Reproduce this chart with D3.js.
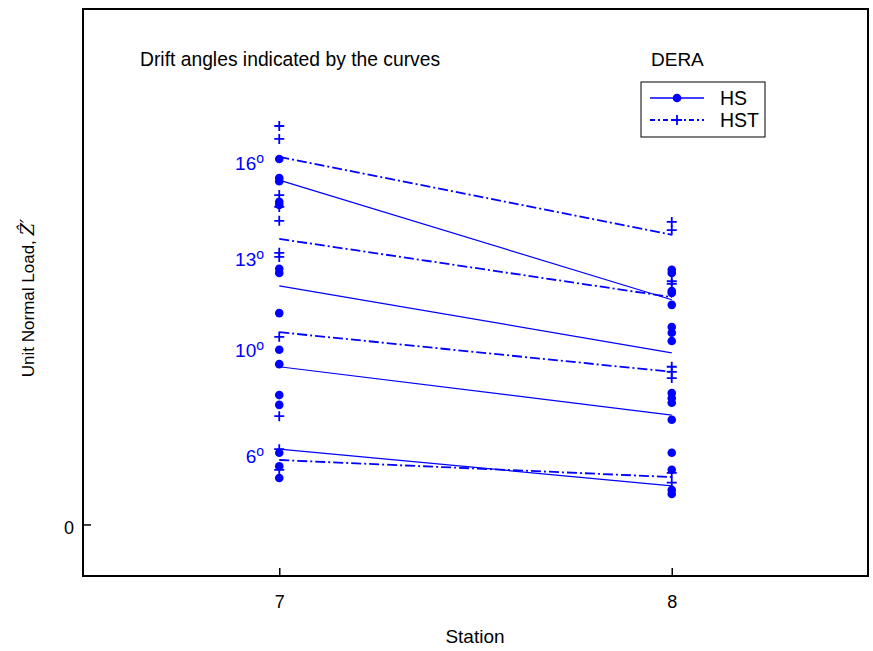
<!DOCTYPE html>
<html>
<head>
<meta charset="utf-8">
<script src="https://cdn.jsdelivr.net/npm/d3@7"></script>
<style>
  body { margin: 0; background: #fff; }
  text { font-family: "Liberation Sans", Arial, sans-serif; }
</style>
</head>
<body>
<svg id="chart"></svg>
<script>
// measured loads at stations 7 and 8
const stations = [7, 8]
const hsSt7 = [0.709, 0.672, 0.666, 0.626, 0.620, 0.496, 0.488, 0.410, 0.339, 0.311, 0.251, 0.232, 0.139, 0.113, 0.090]
const hsSt8 = [0.494, 0.488, 0.453, 0.449, 0.426, 0.383, 0.372, 0.356, 0.255, 0.245, 0.236, 0.203, 0.139, 0.106, 0.067, 0.059]
const hstSt7 = [0.773, 0.748, 0.639, 0.616, 0.589, 0.527, 0.519, 0.364, 0.210, 0.146, 0.106]
const hstSt8 = [0.587, 0.571, 0.472, 0.467, 0.306, 0.296, 0.284, 0.100, 0.081]

// fitted curves per drift angle: [station 7, station 8]
const angles = [16, 13, 10, 6]
const hsFit = [[0.668, 0.436], [0.463, 0.333], [0.306, 0.212], [0.146, 0.075]]
const hstFit = [[0.713, 0.562], [0.554, 0.441], [0.373, 0.296], [0.125, 0.092]]
const angleLabelLevel = [0.701, 0.515, 0.339, 0.133]

const yTicks = [0]
const blue = '#0000ff'

const width = 873
const height = 651
const margin = { left: 83, right: 5, top: 9, bottom: 75 }

const svg = d3.select('svg#chart').attr('width', width).attr('height', height)

const x = d3.scaleLinear().domain([6.5, 8.5]).range([margin.left, width - margin.right])
const y = d3.scaleLinear().domain([-0.1, 1.0]).range([height - margin.bottom, margin.top])

// frame
svg.append('rect')
    .attr('x', margin.left).attr('y', margin.top)
    .attr('width', width - margin.left - margin.right)
    .attr('height', height - margin.top - margin.bottom)
    .attr('fill', 'none').attr('stroke', '#000').attr('stroke-width', 2)

// axes with inward ticks
const xAxis = svg.append('g')
    .attr('transform', 'translate(0,' + (height - margin.bottom) + ')')
    .call(d3.axisBottom(x).tickValues(stations).tickFormat(d3.format('d'))
        .tickSizeInner(-8).tickSizeOuter(0).tickPadding(19))
xAxis.select('.domain').remove()
xAxis.selectAll('line').attr('stroke-width', 1.5)
xAxis.selectAll('text').attr('font-size', 18).attr('fill', '#000')

const yAxis = svg.append('g')
    .attr('transform', 'translate(' + margin.left + ',0)')
    .call(d3.axisLeft(y).tickValues(yTicks).tickFormat(d3.format('d'))
        .tickSizeInner(-8).tickSizeOuter(0).tickPadding(9))
yAxis.select('.domain').remove()
yAxis.selectAll('line').attr('stroke-width', 1.5)
yAxis.selectAll('text').attr('font-size', 18).attr('fill', '#000').attr('dy', '0.5em')

// fitted lines
const dashDot = '10,3,2,3'
const line = d3.line().x((d, i) => x(stations[i])).y(d => y(d))
const fits = svg.append('g')
fits.selectAll('.hs').data(hsFit).enter().append('path')
    .attr('d', line).attr('fill', 'none').attr('stroke', blue).attr('stroke-width', 1.2)
fits.selectAll('.hst').data(hstFit).enter().append('path')
    .attr('d', line).attr('fill', 'none').attr('stroke', blue).attr('stroke-width', 1.8)
    .attr('stroke-dasharray', dashDot)

// markers
function dots(vals, st) {
    svg.append('g').selectAll('circle').data(vals).enter().append('circle')
        .attr('cx', x(st)).attr('cy', d => y(d)).attr('r', 4.3).attr('fill', blue)
}
function pluses(vals, st) {
    svg.append('g').selectAll('path').data(vals).enter().append('path')
        .attr('d', d => 'M' + (x(st) - 5) + ',' + y(d) + 'h10M' + x(st) + ',' + (y(d) - 5) + 'v10')
        .attr('stroke', blue).attr('stroke-width', 1.8).attr('fill', 'none')
}
dots(hsSt7, 7)
dots(hsSt8, 8)
pluses(hstSt7, 7)
pluses(hstSt8, 8)

// drift angle labels
const lbl = svg.append('g').selectAll('text').data(angles).enter().append('text')
    .attr('x', 264).attr('y', (d, i) => y(angleLabelLevel[i]) + 7)
    .attr('text-anchor', 'end').attr('font-size', 19).attr('fill', blue)
    .text(d => d)
lbl.append('tspan').attr('dy', -7).attr('font-size', 14).text('o')

// annotations
svg.append('text').attr('x', 140).attr('y', 66).attr('font-size', 19.3).text('Drift angles indicated by the curves')
svg.append('text').attr('x', 651).attr('y', 66).attr('font-size', 19).text('DERA')

// legend
const lg = svg.append('g')
lg.append('rect').attr('x', 641).attr('y', 82).attr('width', 124).attr('height', 55)
    .attr('fill', '#fff').attr('stroke', '#000').attr('stroke-width', 1)
lg.append('line').attr('x1', 650).attr('x2', 704).attr('y1', 98).attr('y2', 98)
    .attr('stroke', blue).attr('stroke-width', 1.5)
lg.append('circle').attr('cx', 677).attr('cy', 98).attr('r', 4.3).attr('fill', blue)
lg.append('line').attr('x1', 650).attr('x2', 704).attr('y1', 120).attr('y2', 120)
    .attr('stroke', blue).attr('stroke-width', 1.8).attr('stroke-dasharray', '5,3,2,3')
lg.append('path').attr('d', 'M672,120h10M677,115v10').attr('stroke', blue).attr('stroke-width', 1.8)
lg.append('text').attr('x', 720).attr('y', 105).attr('font-size', 19.5).text('HS')
lg.append('text').attr('x', 720).attr('y', 127).attr('font-size', 19.5).text('HST')

// axis titles
svg.append('text').attr('x', 475).attr('y', 643).attr('text-anchor', 'middle')
    .attr('font-size', 19).text('Station')
const yl = svg.append('text').attr('transform', 'translate(34,298) rotate(-90)')
    .attr('text-anchor', 'middle').attr('font-size', 17)
yl.append('tspan').text('Unit Normal Load,  ')
yl.append('tspan').attr('font-family', '"DejaVu Serif", serif').attr('font-style', 'italic')
    .attr('font-size', 18).text('\u1E90\u2032')
</script>
</body>
</html>
